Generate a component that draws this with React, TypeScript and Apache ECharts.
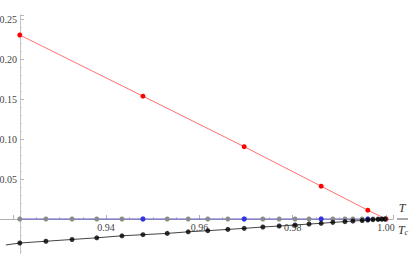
import React, { useEffect, useRef } from "react";
import * as echarts from "echarts";

// Reduced temperature T/Tc of the sampled points
const temps = [
  0.9215, 0.9271, 0.9327, 0.938, 0.9434, 0.9479, 0.9531, 0.9576, 0.9618, 0.9661,
  0.9696, 0.9736, 0.9771, 0.9805, 0.9835, 0.9861, 0.9886, 0.9912, 0.9929, 0.9949,
  0.9961, 0.9972, 0.9983, 0.9991, 0.9998,
];
// gray points (on zero line)
const grayValues = [
  0, 0, 0, 0, 0, 0, 0, 0, 0, 0, 0, 0, 0, 0, 0, 0, 0, 0, 0, 0, 0, 0, 0, 0, 0,
];
// black points (negative branch)
const blackValues = [
  -0.030, -0.0278, -0.0256, -0.0235, -0.021, -0.0196, -0.018, -0.016, -0.0146, -0.013,
  -0.0117, -0.0100, -0.0088, -0.0075, -0.0063, -0.0054, -0.0042, -0.0033, -0.0025, -0.0019,
  -0.0013, -0.0008, -0.0004, -0.0002, 0,
];
// black curve extends a little to the left of the first point
const blackCurveStartT = [0.9185];
const blackCurveStartValues = [-0.0325];

// red branch
const redT = [0.9215, 0.9479, 0.9696, 0.9861, 0.9961, 1.0];
const redValues = [0.230, 0.1535, 0.0904, 0.041, 0.011, 0];

// blue points
const blueT = [0.9479, 0.9696, 0.9861, 0.9961];
const blueValues = [0, 0, 0, 0];

// tick labels
const xTickLabels = ["0.94", "0.96", "0.98", "1.00"];
const yTickLabels = ["0.05", "0.10", "0.15", "0.20", "0.25"];

const zip = (a: number[], b: number[]) => a.map((v, i) => [v, b[i]]);

const FONT = "Liberation Serif";

export default function App() {
  const ref = useRef<HTMLDivElement>(null);
  useEffect(() => {
    if (!ref.current) return;
    const chart = echarts.init(ref.current, undefined, { renderer: "svg" });
    const fmt2 = (v: number) => v.toFixed(2);
    chart.setOption({
      animation: false,
      grid: {
        left: -80.5,
        right: 16,
        top: 15,
        bottom: -5,
        containLabel: false,
        outerBoundsMode: "none",
      },
      xAxis: {
        type: "value",
        min: 0.9,
        max: 1.0015,
        interval: 0.02,
        offset: -40,
        axisLine: { show: true, onZero: false, lineStyle: { color: "#b0b0b0", width: 1 } },
        axisTick: { show: true, inside: true, length: 4, lineStyle: { color: "#b0b0b0" } },
        minorTick: { show: true, splitNumber: 4, length: 2, lineStyle: { color: "#c8c8c8" } },
        splitLine: { show: false },
        axisLabel: {
          margin: 3,
          color: "#444",
          fontFamily: FONT,
          fontSize: 10,
          formatter: (v: number) => (xTickLabels.includes(fmt2(v)) && Math.abs(v - Number(fmt2(v))) < 1e-6 ? fmt2(v) : ""),
        },
      },
      yAxis: {
        type: "value",
        min: -0.05,
        max: 0.255,
        interval: 0.05,
        offset: -100.5,
        axisLine: { show: true, onZero: false, lineStyle: { color: "#c4c4c4", width: 1 } },
        axisTick: { show: true, inside: true, length: 4, lineStyle: { color: "#b8b8b8" } },
        minorTick: { show: true, splitNumber: 5, length: 2, lineStyle: { color: "#cccccc" } },
        splitLine: { show: false },
        axisLabel: {
          margin: 3,
          color: "#444",
          fontFamily: FONT,
          fontSize: 10,
          formatter: (v: number) => (yTickLabels.includes(fmt2(v)) && Math.abs(v - Number(fmt2(v))) < 1e-6 ? fmt2(v) : ""),
        },
      },
      series: [
        {
          type: "line",
          data: zip(redT, redValues),
          symbol: "circle",
          symbolSize: 5,
          itemStyle: { color: "#ff0000" },
          lineStyle: { color: "#ff7070", width: 1 },
          z: 3,
        },
        {
          type: "line",
          data: zip(temps, grayValues),
          symbol: "circle",
          symbolSize: 5,
          itemStyle: { color: "#8a8a8a" },
          lineStyle: { color: "#5a5ac6", width: 1 },
          z: 4,
        },
        {
          type: "scatter",
          data: zip(blueT, blueValues),
          symbol: "circle",
          symbolSize: 5,
          itemStyle: { color: "#1a1aff" },
          z: 5,
        },
        {
          type: "line",
          data: zip(blackCurveStartT.concat(temps), blackCurveStartValues.concat(blackValues)),
          showSymbol: false,
          symbol: "none",
          lineStyle: { color: "#444444", width: 1 },
          z: 5,
        },
        {
          type: "scatter",
          data: zip(temps, blackValues),
          symbol: "circle",
          symbolSize: 5,
          itemStyle: { color: "#000000" },
          z: 6,
        },
      ],
      graphic: [
        {
          type: "text",
          x: 402,
          y: 208,
          style: {
            text: "T",
            fontFamily: FONT,
            fontStyle: "italic",
            fontSize: 12,
            fill: "#333",
            align: "center",
            verticalAlign: "middle",
          },
        },
        {
          type: "line",
          shape: { x1: 397, y1: 219, x2: 408, y2: 219 },
          style: { stroke: "#555", lineWidth: 1 },
        },
        {
          type: "text",
          x: 403,
          y: 230,
          style: {
            text: "{t|T}{c|c}",
            align: "center",
            verticalAlign: "middle",
            rich: {
              t: { fontFamily: FONT, fontStyle: "italic", fontSize: 12, fill: "#333" },
              c: { fontFamily: FONT, fontStyle: "italic", fontSize: 8, fill: "#333", verticalAlign: "bottom", padding: [5, 0, 0, 0] },
            },
          },
        },
      ],
    });
    return () => chart.dispose();
  }, []);
  return (
    <div
      ref={ref}
      style={{ position: "absolute", left: 0, top: 0, width: 409, height: 254 }}
    />
  );
}
